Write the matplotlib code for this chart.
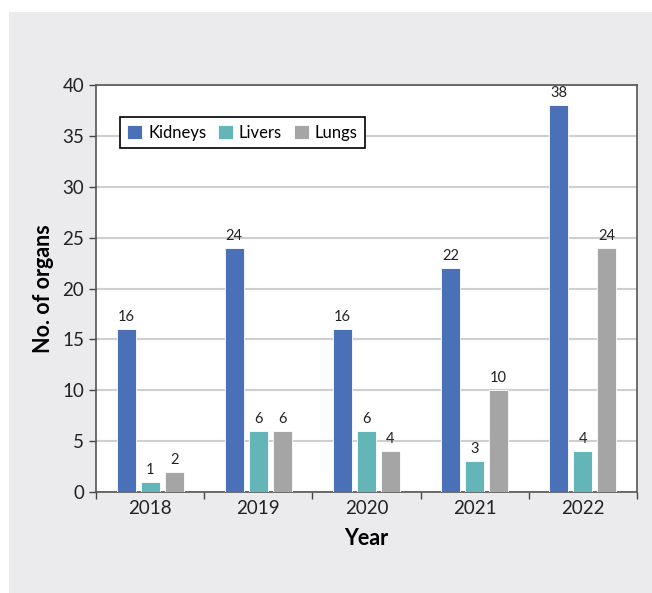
import matplotlib.pyplot as plt
import numpy as np
from matplotlib.patches import Rectangle

# Datos
years = ["2018", "2019", "2020", "2021", "2022"]
kidneys = [16, 24, 16, 22, 38]
livers = [1, 6, 6, 3, 4]
lungs = [2, 6, 4, 10, 24]

plt.rcParams['font.family'] = ['Lato', 'DejaVu Sans']

fig = plt.figure(figsize=(6.52, 5.93), dpi=100)
fig.patches.append(Rectangle((9/652, 0), 1, 1 - 12/593, transform=fig.transFigure,
                             facecolor="#ebebed", edgecolor="none", zorder=-10))

ax = fig.add_axes([96/652, 1 - 492/593, (637-96)/652, (492-85)/593])
x = np.arange(len(years))
w = 0.176
step = 0.222
series = [(kidneys, "Kidneys", "#4a71b8"), (livers, "Livers", "#63b5b8"), (lungs, "Lungs", "#a5a5a5")]
for i, (vals, name, col) in enumerate(series):
    bars = ax.bar(x + (i - 1) * step, vals, w, color=col, label=name,
                  edgecolor="white", linewidth=0.6, zorder=3)
    for b, v in zip(bars, vals):
        ax.text(b.get_x() + b.get_width()/2, v + 0.5, str(v), ha="center", va="bottom",
                fontsize=10.5, color="#222222")

ax.set_xlim(-0.5, 4.5)
ax.set_ylim(0, 40)
ax.set_yticks(range(0, 41, 5))
ax.set_xticks(x)
ax.set_xticklabels(years)
ax.set_xticks(np.arange(-0.5, 5, 1), minor=True)
ax.tick_params(axis="x", which="major", length=0, labelsize=13.5, pad=6, colors="#222222")
ax.tick_params(axis="x", which="minor", length=5, width=1, color="#444444")
ax.tick_params(axis="y", length=5, width=1, labelsize=13.5, color="#444444", labelcolor="#222222")
ax.yaxis.grid(True, color="#cfcfcf", linewidth=1.5, zorder=0)
ax.set_axisbelow(True)
for s in ax.spines.values():
    s.set_color("#555555")
    s.set_linewidth(1.2)

ax.set_xlabel("Year", fontsize=15.5, fontweight="bold", labelpad=8)
ax.set_ylabel("No. of organs", fontsize=15.5, fontweight="bold", labelpad=6)

leg = ax.legend(loc="upper left", bbox_to_anchor=(0.044, 0.921), borderaxespad=0, ncol=3,
                fontsize=12, frameon=True, fancybox=False, edgecolor="black", framealpha=1,
                handlelength=0.9, handleheight=0.9, handletextpad=0.35, columnspacing=0.7,
                borderpad=0.45)
leg.get_frame().set_linewidth(1.2)
leg.set_zorder(5)

fig.savefig("out.png", dpi=100)
